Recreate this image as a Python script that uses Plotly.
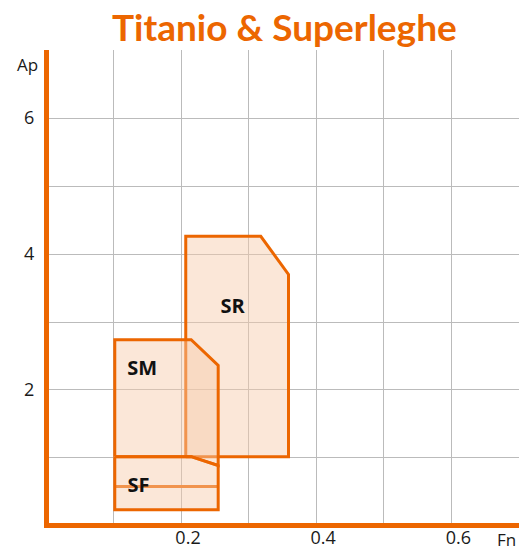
import plotly.graph_objects as go

# Operating regions (Fn = feed, Ap = depth of cut), polygon vertices
sr_fn = [0.207, 0.207, 0.318, 0.359, 0.359, 0.207]
sr_ap = [1.02, 4.26, 4.26, 3.70, 1.02, 1.02]

sm_fn = [0.102, 0.102, 0.215, 0.255, 0.255, 0.215, 0.102]
sm_ap = [1.02, 2.74, 2.74, 2.36, 0.89, 1.02, 1.02]

sf_fn = [0.102, 0.215, 0.255, 0.255, 0.102, 0.102]
sf_ap = [1.02, 1.02, 0.89, 0.24, 0.24, 1.02]

sf_mid_fn = [0.102, 0.255]
sf_mid_ap = [0.58, 0.58]

labels = ["SR", "SM", "SF"]
label_fn = [0.2763, 0.1425, 0.137]
label_ap = [3.20, 2.30, 0.57]

x_grid = [0.1, 0.2, 0.3, 0.4, 0.5, 0.6]
x_text = ["", "0.2", "", "0.4", "", "0.6"]
y_grid = [1, 2, 3, 4, 5, 6]
y_text = ["", "2", "", "4", "", "6"]

ORANGE = "rgb(236,102,0)"
FILL = "rgba(246,203,170,0.46)"

fig = go.Figure()

def region(xs, ys):
    fig.add_trace(go.Scatter(
        x=xs, y=ys, mode="lines", fill="toself", fillcolor=FILL,
        line=dict(color=ORANGE, width=3), hoverinfo="skip", showlegend=False,
    ))

region(sr_fn, sr_ap)
region(sm_fn, sm_ap)
fig.add_trace(go.Scatter(
    x=sf_mid_fn, y=sf_mid_ap, mode="lines",
    line=dict(color=ORANGE, width=3), hoverinfo="skip", showlegend=False,
))
region(sf_fn, sf_ap)

fig.add_trace(go.Scatter(
    x=label_fn, y=label_ap, mode="text", text=labels,
    textfont=dict(family="Open Sans", size=20, color="#111111", weight="bold"),
    hoverinfo="skip", showlegend=False,
))

W, H = 526, 551
ML, MR, MT, MB = 49, 7, 50, 28
pw, ph = W - ML - MR, H - MT - MB

def px_x(p):
    return (p - ML) / pw

def px_y(p):
    return (H - MB - p) / ph

fig.update_layout(
    width=W, height=H,
    margin=dict(l=ML, r=MR, t=MT, b=MB, pad=0, autoexpand=False),
    plot_bgcolor="white", paper_bgcolor="white",
    font=dict(family="Open Sans", size=18, color="#1a1a1a"),
    xaxis=dict(
        range=[0.0047, 0.7], tickvals=x_grid, ticktext=x_text,
        showgrid=True, gridcolor="#BBBBBB", gridwidth=1.3,
        showline=True, linecolor=ORANGE, linewidth=5,
        zeroline=False, ticks="", ticklabelshift=7, ticklabelstandoff=-6,
        automargin=False, fixedrange=True,
    ),
    yaxis=dict(
        range=[0.044, 7], tickvals=y_grid, ticktext=y_text,
        showgrid=True, gridcolor="#BBBBBB", gridwidth=1.3,
        showline=True, linecolor=ORANGE, linewidth=5,
        zeroline=False, ticks="", ticklabelstandoff=6,
        automargin=False, fixedrange=True,
    ),
    annotations=[
        dict(text="Titanio &amp; Superleghe", xref="paper", yref="paper",
             x=px_x(284.5), y=px_y(27), xanchor="center", yanchor="middle",
             showarrow=False,
             font=dict(family="Lato", size=37, color=ORANGE, weight="bold")),
        dict(text="Ap", xref="paper", yref="paper",
             x=px_x(27), y=px_y(64), xanchor="center", yanchor="middle",
             showarrow=False, font=dict(family="Open Sans", size=17)),
        dict(text="Fn", xref="paper", yref="paper",
             x=px_x(506.5), y=px_y(539), xanchor="center", yanchor="middle",
             showarrow=False, borderpad=0,
             font=dict(family="Open Sans", size=17)),
    ],
)

fig.write_html("out.html")
